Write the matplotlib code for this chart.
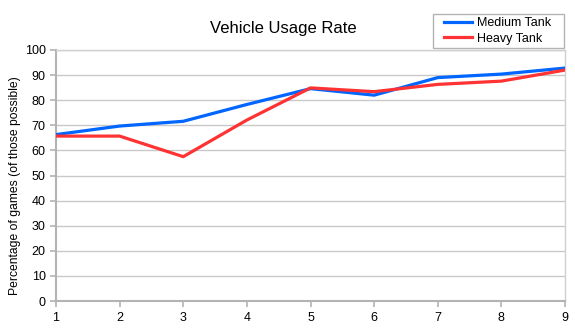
import matplotlib
matplotlib.use("Agg")
from matplotlib import pyplot as plt
from matplotlib.patches import Rectangle

plt.rcParams['font.family'] = ['Liberation Sans', 'DejaVu Sans']

# values
games = [1, 2, 3, 4, 5, 6, 7, 8, 9]
medium_tank = [66.3, 69.7, 71.6, 78.3, 84.6, 82.0, 89.0, 90.4, 92.8]
heavy_tank = [65.7, 65.7, 57.5, 72.1, 84.9, 83.4, 86.3, 87.6, 92.0]
y_ticks = list(range(0, 101, 10))

W, H = 575, 336
fig = plt.figure(figsize=(W / 100, H / 100), dpi=100)
ax = fig.add_axes([56 / W, 35 / H, 509 / W, 251 / H])

ax.plot(games, medium_tank, color="#0066ff", lw=2.3, label="Medium Tank", zorder=3)
ax.plot(games, heavy_tank, color="#ff3333", lw=2.3, label="Heavy Tank", zorder=3)

ax.set_xlim(1, 9)
ax.set_ylim(0, 100)
ax.set_xticks(games)
ax.set_yticks(y_ticks)
ax.grid(axis="y", color="#c8c8c8", lw=1)
ax.set_axisbelow(True)
for side in ["left", "bottom"]:
    ax.spines[side].set_color("#b3b3b3")
    ax.spines[side].set_linewidth(1.5)
for side in ["right", "top"]:
    ax.spines[side].set_color("#d0d0d0")
    ax.spines[side].set_linewidth(1)
ax.tick_params(axis="both", colors="#b3b3b3", labelcolor="black", labelsize=9, length=4, width=1.2)
ax.tick_params(axis="x", pad=4)

fig.text(15 / W, 1 - 186 / H, "Percentage of games (of those possible)", rotation=90,
         ha="center", va="center", fontsize=8.7)
fig.text(283 / W, 1 - 29 / H, "Vehicle Usage Rate", ha="center", va="center", fontsize=12)

# legend box drawn separately so its padding matches the reference
fig.patches.append(Rectangle((433 / W, 1 - 48 / H), 131 / W, 34 / H, transform=fig.transFigure,
                             facecolor="white", edgecolor="#b3b3b3", lw=1, zorder=4))
leg = fig.legend(loc="upper left", bbox_to_anchor=(441 / W, 1 - 15 / H), fontsize=9,
                 frameon=False, handlelength=2.3, borderpad=0.2, labelspacing=0.25,
                 handletextpad=0.35, borderaxespad=0)
leg.set_zorder(5)

fig.savefig("out.png", dpi=100)
